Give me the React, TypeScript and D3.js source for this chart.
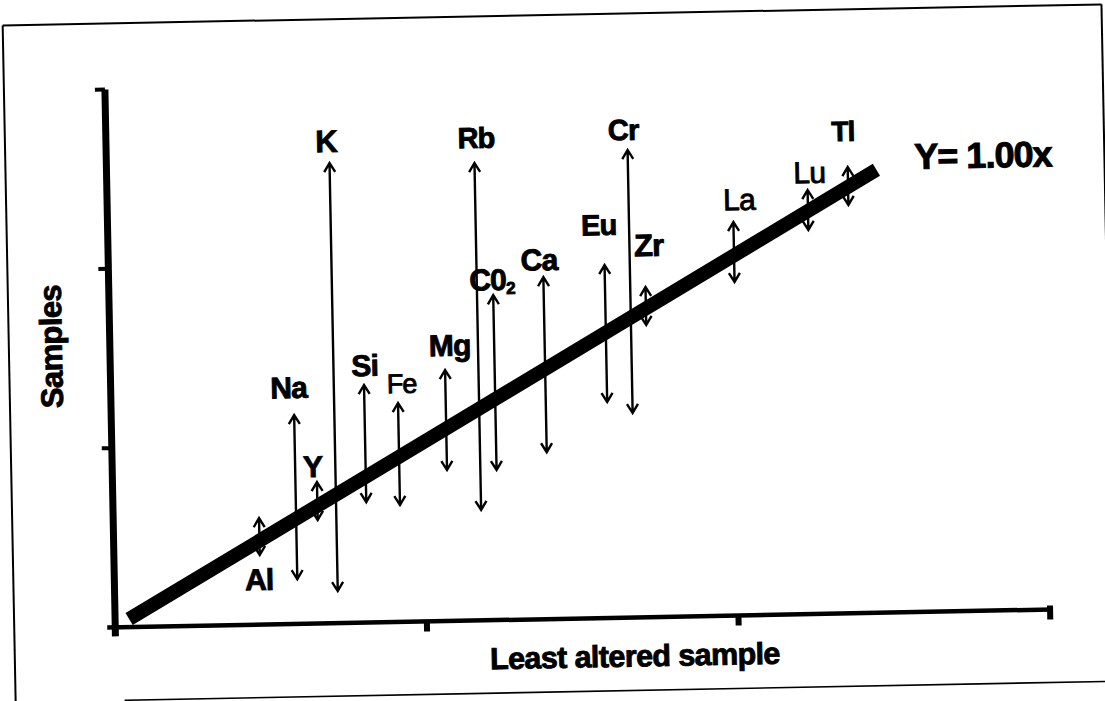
import React from "react";
import * as d3 from "d3";

// ---- data (values in units of the chart's axes, 0..3) ----
const elements = ["Al", "Na", "Y", "K", "Si", "Fe", "Mg", "Rb", "CO2", "Ca", "Eu", "Cr", "Zr", "La", "Lu", "Tl"];
const leastAltered = [0.468, 0.587, 0.656, 0.716, 0.813, 0.921, 1.074, 1.181, 1.233, 1.395, 1.592, 1.673, 1.722, 2.008, 2.248, 2.378];
const rangeHigh = [0.594, 1.165, 0.789, 2.566, 1.325, 1.221, 1.4, 2.551, 1.812, 1.907, 1.968, 2.607, 1.841, 2.194, 2.365, 2.489];
const rangeLow = [0.388, 0.25, 0.577, 0.179, 0.672, 0.652, 0.842, 0.616, 0.837, 0.931, 1.204, 1.14, 1.629, 1.86, 2.142, 2.277];
const xTicks = [0, 1, 2, 3];
const yTicks = [0, 1, 2, 3];
const fitLine = [0.045, 2.47];
const fitLabel = "Y= 1.00x";
const xTitle = "Least altered sample";
const yTitle = "Samples";

// ---- layout (label placement relative to arrow tips, pixels) ----
const labelLayout: Record<string, { dx: number; dy: number; below?: boolean; size: number; weight: string }> = {
  Al: { dx: -1, dy: 35, below: true, size: 30, weight: "bold" },
  Na: { dx: -5, dy: -17, size: 30, weight: "bold" },
  Y: { dx: -4, dy: -5, size: 30, weight: "bold" },
  K: { dx: -3, dy: -11, size: 31, weight: "bold" },
  Si: { dx: 1, dy: -9, size: 30, weight: "bold" },
  Fe: { dx: 4, dy: -10, size: 27, weight: "normal" },
  Mg: { dx: 5, dy: -14, size: 30, weight: "bold" },
  Rb: { dx: 2, dy: -15, size: 29, weight: "bold" },
  CO2: { dx: -1, dy: -5, size: 30, weight: "bold" },
  Ca: { dx: -4, dy: -7, size: 30, weight: "bold" },
  Eu: { dx: -5, dy: -30, size: 29, weight: "bold" },
  Cr: { dx: -4, dy: -10, size: 29, weight: "bold" },
  Zr: { dx: 4, dy: -31, size: 31, weight: "bold" },
  La: { dx: 6, dy: -12, size: 30, weight: "normal" },
  Lu: { dx: 2, dy: -7, size: 30, weight: "normal" },
  Tl: { dx: -4, dy: -26, size: 28, weight: "bold" },
};

const W = 1105;
const H = 701;
const FONT = "'Liberation Sans', Arial, sans-serif";

export default function App() {
  const x = d3.scaleLinear().domain([0, 3]).range([110, 1045]);
  const y = d3.scaleLinear().domain([0, 3]).range([619, 81]);

  const linePath = d3.line<number>().x((d) => x(d)).y((d) => y(d))(fitLine) || "";

  const arrowPath = (i: number) => {
    const cx = x(leastAltered[i]);
    const y1 = y(rangeHigh[i]);
    const y2 = y(rangeLow[i]);
    const hw = 5.5;
    const hh = 9;
    return `M${cx},${y1}L${cx},${y2}M${cx - hw},${y1 + hh}L${cx},${y1}L${cx + hw},${y1 + hh}M${cx - hw},${y2 - hh}L${cx},${y2}L${cx + hw},${y2 - hh}`;
  };

  return (
    <svg
      width={W}
      height={H}
      style={{ position: "absolute", left: 0, top: 0, background: "#fff" }}
      fontFamily={FONT}
    >
      <rect x={0} y={0} width={W} height={H} fill="#fff" />
      <g transform="rotate(-1.1, 552, 350)">
        {/* frame */}
        <line x1={9} y1={15} x2={1108} y2={15} stroke="#000" strokeWidth={2} />
        <line x1={9} y1={15} x2={9} y2={692} stroke="#000" strokeWidth={2} />
        <line x1={1108} y1={15} x2={1108} y2={692} stroke="#000" strokeWidth={2} />
        <line x1={118} y1={692} x2={1108} y2={692} stroke="#000" strokeWidth={1.6} />

        {/* axes */}
        <line x1={x(0)} y1={y(3)} x2={x(0)} y2={y(0) + 9} stroke="#000" strokeWidth={7} />
        <line x1={x(0) - 8} y1={y(0)} x2={x(3) + 2} y2={y(0)} stroke="#000" strokeWidth={4.5} />
        {xTicks.filter((t) => t > 0).map((t) => (
          <rect key={"xt" + t} x={x(t) - 3} y={y(0) - (t === 3 ? 4 : 0)} width={6} height={t === 3 ? 14 : 10} fill="#000" />
        ))}
        {yTicks.filter((t) => t > 0).map((t) => (
          <rect key={"yt" + t} x={x(0) - 10} y={y(t) - 2} width={10} height={4} fill="#000" />
        ))}

        {/* 1:1 line */}
        <path d={linePath} stroke="#000" strokeWidth={14} fill="none" strokeLinecap="butt" />

        {/* arrows */}
        {elements.map((e, i) => (
          <path key={"a" + e} d={arrowPath(i)} stroke="#000" strokeWidth={2.4} fill="none" strokeLinejoin="miter" />
        ))}

        {/* labels */}
        {elements.map((e, i) => {
          const L = labelLayout[e];
          const cx = x(leastAltered[i]) + L.dx;
          const cy = (L.below ? y(rangeLow[i]) : y(rangeHigh[i])) + L.dy;
          return (
            <text
              key={"l" + e}
              x={cx}
              y={cy}
              textAnchor="middle"
              fontSize={L.size}
              fontWeight={L.weight}
              letterSpacing={-0.8}
              stroke="#000"
              strokeWidth={0.9}
              fill="#000"
            >
              {e === "CO2" ? (
                <>
                  C0
                  <tspan fontSize={17} dy={4}>2</tspan>
                </>
              ) : (
                e
              )}
            </text>
          );
        })}

        {/* equation */}
        <text x={918} y={176} fontSize={36} fontWeight="bold" letterSpacing={-1} stroke="#000" strokeWidth={1} fill="#000">
          {fitLabel}
        </text>

        {/* axis titles */}
        <text x={629} y={668} textAnchor="middle" fontSize={30.5} fontWeight="bold" letterSpacing={-0.6} stroke="#000" strokeWidth={0.9} fill="#000">
          {xTitle}
        </text>
        <text
          transform="translate(62, 337) rotate(-90)"
          textAnchor="middle"
          fontSize={31}
          fontWeight="bold"
          letterSpacing={-0.6}
          stroke="#000"
          strokeWidth={0.9}
          fill="#000"
        >
          {yTitle}
        </text>
      </g>
    </svg>
  );
}
